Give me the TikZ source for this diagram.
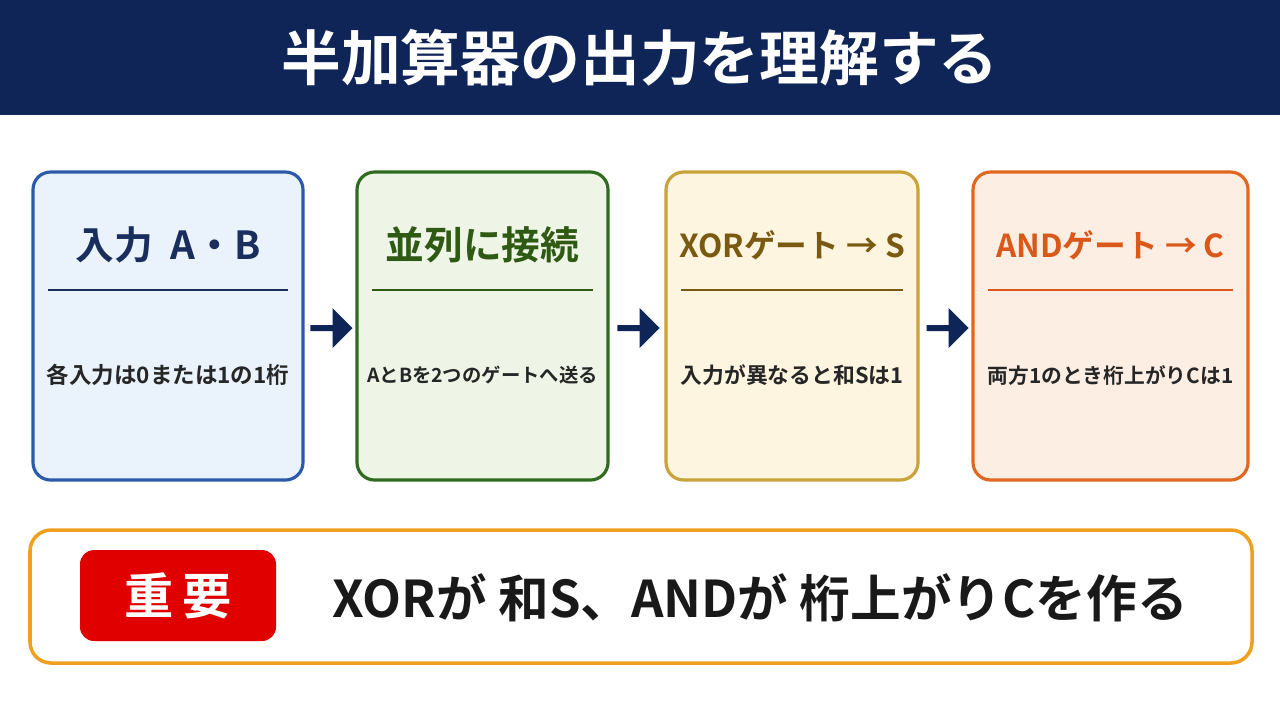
\documentclass[tikz,border=0pt]{standalone}
\usepackage{fontspec}
\setmainfont{Noto Sans CJK JP}[BoldFont={* Bold}]
\usetikzlibrary{shapes.arrows}
\definecolor{navy}{HTML}{0F2557}
\definecolor{bB}{HTML}{2A5AA8}\definecolor{fB}{HTML}{EAF2FC}\definecolor{tB}{HTML}{1A2E5E}
\definecolor{bG}{HTML}{2E6B1E}\definecolor{fG}{HTML}{EEF5E7}\definecolor{tG}{HTML}{2E5A14}
\definecolor{bY}{HTML}{C9A23A}\definecolor{fY}{HTML}{FDF5E0}\definecolor{tY}{HTML}{7A5A10}
\definecolor{bO}{HTML}{E0671E}\definecolor{fO}{HTML}{FDEEE3}\definecolor{tO}{HTML}{D9581A}
\definecolor{gold}{HTML}{F0A020}\definecolor{red}{HTML}{E00000}
\begin{document}
\begin{tikzpicture}[x=0.01cm,y=-0.01cm,
 card/.style={draw=#1,line width=0.9pt,rounded corners=5pt},
 head/.style={font=\bfseries,text=#1},
 body/.style={font=\bfseries,text=black!85},
 arr/.style={single arrow,fill=navy,minimum height=0.42cm,minimum width=0.4cm,single arrow head extend=0.04cm,single arrow head indent=0cm,inner sep=0pt}]
\useasboundingbox (0,0) rectangle (1280,720);
\fill[white] (0,0) rectangle (1280,720);
\fill[navy] (0,0) rectangle (1280,115);
\node[font=\bfseries\fontsize{17pt}{19pt}\selectfont,text=white] (title) at (640,58) {半加算器の出力を理解する};
\def\card#1#2#3#4#5#6#7{%
 \draw[card=b#3,fill=f#3] (#1,172) rectangle (#2,480);
 \node[head=t#3] (h#3) at ({(#1+#2)/2},245) {\fontsize{#6}{12pt}\selectfont #4};
 \draw[t#3,line width=0.8pt] ({#1+15},290) -- ({#2-15},290);
 \node[body] (x#3) at ({(#1+#2)/2},375) {\fontsize{#7}{7pt}\selectfont #5};}
\card{33}{303}{B}{入力\ \ A・B}{各入力は0または1の1桁}{11pt}{6.4pt}
\card{357}{608}{G}{並列に接続}{AとBを2つのゲートへ送る}{11pt}{5.5pt}
\card{666}{918}{Y}{XORゲート → S}{入力が異なると和Sは1}{9pt}{6.2pt}
\card{973}{1248}{O}{ANDゲート → C}{両方1のとき桁上がりCは1}{9pt}{5.9pt}
\node[arr] (a1) at (330,328) {};
\node[arr] (a2) at (637,328) {};
\node[arr] (a3) at (946,328) {};
\draw[gold,line width=1pt,fill=white,rounded corners=6pt] (30,530) rectangle (1252,663);
\fill[red,rounded corners=4pt] (80,550) rectangle (276,641);
\node[font=\bfseries\fontsize{14pt}{16pt}\selectfont,text=white] (imp) at (178,596) {重\,要};
\node[font=\bfseries\fontsize{14.4pt}{16pt}\selectfont,text=black!90] (msg) at (760,598) {XORが 和S、ANDが 桁上がりCを作る};
\end{tikzpicture}
\end{document}
